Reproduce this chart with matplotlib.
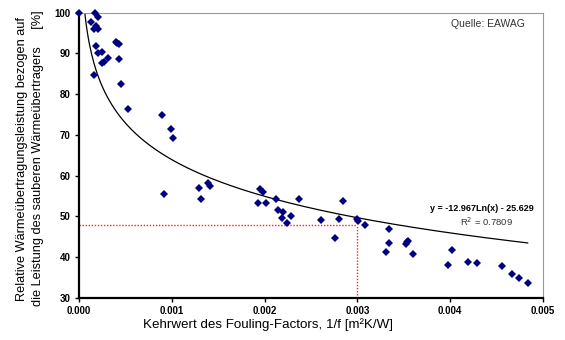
import numpy as np
import matplotlib
matplotlib.use("Agg")
import matplotlib.pyplot as plt
from matplotlib.ticker import FixedLocator, FormatStrFormatter

plt.rcParams['font.family'] = ['Liberation Sans', 'DejaVu Sans']

x_vals = [0.0, 0.000172, 0.000208, 0.000129, 0.00018, 0.000165, 0.0002, 0.000183,
          0.000208, 0.000244, 0.000244, 0.000273, 0.000316, 0.000158, 0.000399,
          0.000413, 0.000428, 0.000428, 0.000453, 0.000532, 0.000894, 0.000995,
          0.001016, 0.000912, 0.001297, 0.001315, 0.001387, 0.001415, 0.001932,
          0.001954, 0.00198, 0.002012, 0.002123, 0.002148, 0.002195, 0.002184,
          0.00224, 0.002288, 0.002371, 0.002605, 0.002755, 0.002798, 0.002841,
          0.002999, 0.003006, 0.003082, 0.003337, 0.003312, 0.003337, 0.003524,
          0.003545, 0.00353, 0.003602, 0.003973, 0.004016, 0.004188, 0.004285,
          0.004555, 0.004669, 0.004741, 0.004835]
y_vals = [100.0, 100.0, 99.0, 97.7, 96.7, 95.9, 95.9, 91.8,
          90.2, 90.3, 87.7, 87.9, 88.9, 84.7, 92.9,
          92.6, 92.2, 88.7, 82.4, 76.3, 75.0, 71.4,
          69.3, 55.6, 57.0, 54.4, 58.2, 57.5, 53.4,
          56.7, 55.9, 53.4, 54.3, 51.5, 51.2, 49.6,
          48.5, 50.2, 54.4, 49.2, 44.8, 49.4, 53.9,
          49.4, 48.9, 47.9, 46.9, 41.2, 43.5, 43.3,
          44.1, 43.8, 40.7, 38.2, 41.8, 38.9, 38.6,
          37.9, 35.8, 34.8, 33.8]

fit_a = -12.967
fit_b = -25.629
ref_x = 0.003
ref_y = 48

x_ticks = [0.000, 0.001, 0.002, 0.003, 0.004, 0.005]
y_ticks = [30, 40, 50, 60, 70, 80, 90, 100]

fig = plt.figure(figsize=(5.65, 3.4), dpi=100)
ax = fig.add_axes([79/565, 1-298/340, (543-79)/565, (298-12.7)/340])

xf = np.linspace(4e-5, max(x_vals), 400)
yf = fit_a * np.log(xf) + fit_b
ax.plot(xf, yf, color='black', lw=0.9, zorder=2)

ax.plot([0, ref_x], [ref_y, ref_y], color='#ff2020', lw=1.0, ls=(0, (1, 1.2)), zorder=1)
ax.plot([ref_x, ref_x], [30, ref_y], color='#ff2020', lw=1.0, ls=(0, (1, 1.2)), zorder=1)

ax.plot(x_vals, y_vals, ls='none', marker='D', ms=3.6, color='#000080',
        markeredgewidth=0, zorder=3, clip_on=False)

ax.set_xlim(0, 0.005)
ax.set_ylim(30, 100)
ax.xaxis.set_major_locator(FixedLocator(x_ticks))
ax.yaxis.set_major_locator(FixedLocator(y_ticks))
ax.xaxis.set_major_formatter(FormatStrFormatter('%.3f'))
ax.yaxis.set_major_formatter(FormatStrFormatter('%d'))
ax.tick_params(axis='both', direction='out', length=3, width=1, labelsize=7, pad=3)
for lab in ax.get_xticklabels() + ax.get_yticklabels():
    lab.set_fontweight('bold')

ax.spines['left'].set_linewidth(1.6)
ax.spines['bottom'].set_linewidth(1.6)
ax.spines['top'].set_color('#999999')
ax.spines['right'].set_color('#999999')
ax.spines['top'].set_linewidth(0.8)
ax.spines['right'].set_linewidth(0.8)

fig.text(268/565, 1-325/340, 'Kehrwert des Fouling-Factors, 1/f [m\u00b2K/W]',
         ha='center', va='center', fontsize=9.6)
fig.text(22/565, 1-159/340, 'Relative Wärmeübertragungsleistung bezogen auf',
         rotation=90, ha='center', va='center', fontsize=9.2)
fig.text(38/565, 1-158/340, 'die Leistung des sauberen Wärmeübertragers     [%]',
         rotation=90, ha='center', va='center', fontsize=9.2)

fig.text(488/565, 1-24/340, 'Quelle: EAWAG', ha='center', va='center',
         fontsize=7.5, color='#333333')
fig.text(482/565, 1-208/340, 'y = -12.967Ln(x) - 25.629', ha='center', va='center',
         fontsize=6.5, fontweight='bold')
fig.text(486/565, 1-222/340, 'R$^2$ = 0.7809', ha='center', va='center',
         fontsize=6.8, color='#333333')

fig.savefig('out.png', dpi=100)
